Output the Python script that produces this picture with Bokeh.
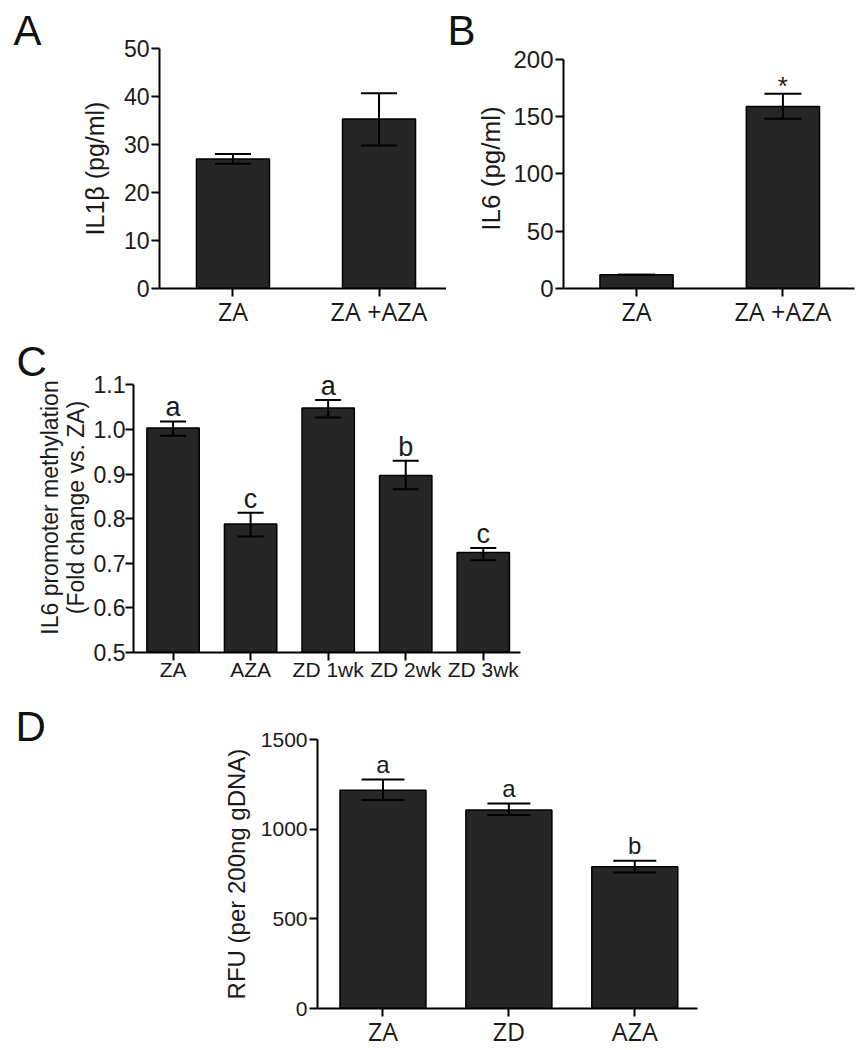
from bokeh.plotting import figure
from bokeh.models import (FixedTicker, Range1d, Whisker, ColumnDataSource,
                          TeeHead, PrintfTickFormatter)
from bokeh.layouts import row
from bokeh.embed import file_html
from bokeh.resources import INLINE
from bokeh.core.properties import value

# ---------------- data ----------------
# Panel A: IL1beta
a_cats = ["ZA", "ZA +AZA"]
a_mean = [27.0, 35.3]
a_lo = [26.0, 29.8]
a_hi = [28.0, 40.7]
a_marks = ["", ""]
a_yticks = [0, 10, 20, 30, 40, 50]

# Panel B: IL6
b_cats = ["ZA", "ZA +AZA"]
b_mean = [12.0, 158.8]
b_lo = [12.0, 148.0]
b_hi = [12.0, 170.0]
b_marks = ["", "*"]
b_yticks = [0, 50, 100, 150, 200]

# Panel C: IL6 promoter methylation
c_cats = ["ZA", "AZA", "ZD 1wk", "ZD 2wk", "ZD 3wk"]
c_mean = [1.003, 0.788, 1.048, 0.897, 0.724]
c_lo = [0.986, 0.760, 1.027, 0.866, 0.707]
c_hi = [1.018, 0.813, 1.066, 0.930, 0.734]
c_marks = ["a", "c", "a", "b", "c"]
c_yticks = [0.5, 0.6, 0.7, 0.8, 0.9, 1.0, 1.1]

# Panel D: RFU
d_cats = ["ZA", "ZD", "AZA"]
d_mean = [1217, 1107, 791]
d_lo = [1163, 1079, 759]
d_hi = [1277, 1143, 824]
d_marks = ["a", "a", "b"]
d_yticks = [0, 500, 1000, 1500]

TXT = "#1a1a1a"
BAR = "#262626"
ARIAL = "Liberation Sans"
HUMAN = "Open Sans"


def panel(cats, mean, lo, hi, marks, yticks, *, width, height, bl, br, bt, bb,
          xr, yr, ybounds, bar_w, cap, base, xfont, xfs, yfs, ylabel,
          ylfs, ylstand, ytstand, mark_fs, mark_off, letter, t_off, t_stand,
          yfmt=None):
    xs = [i + 1 for i in range(len(cats))]
    src = ColumnDataSource(dict(x=xs, top=mean, lo=lo, hi=hi, mark=marks))
    p = figure(width=width, height=height, x_range=Range1d(*xr),
               y_range=Range1d(*yr), output_backend="svg",
               toolbar_location=None, min_border_left=bl,
               min_border_right=br, min_border_top=bt, min_border_bottom=bb)
    p.xgrid.visible = False
    p.ygrid.visible = False
    p.outline_line_color = None
    p.background_fill_color = "white"
    p.border_fill_color = "white"

    # panel letter as title
    p.title.text = letter
    p.title.text_font = ARIAL
    p.title.text_font_style = "normal"
    p.title.text_font_size = "42px"
    p.title.text_color = "#111111"
    p.title.align = "left"
    p.title.vertical_align = "bottom"
    p.title.offset = t_off
    p.title.standoff = t_stand

    p.vbar(x="x", top="top", bottom=base, width=bar_w, source=src,
           fill_color=BAR, line_color="black", line_width=1.5)
    w = Whisker(base="x", upper="hi", lower="lo", source=src,
                dimension="height", line_width=2, line_color="black",
                upper_head=TeeHead(size=cap, line_width=2, line_color="black"),
                lower_head=TeeHead(size=cap, line_width=2, line_color="black"),
                level="annotation")
    p.add_layout(w)
    p.text(x="x", y="hi", text="mark", source=src, text_align="center",
           text_baseline="alphabetic", y_offset=mark_off,
           text_font=value(ARIAL), text_font_size=f"{mark_fs}px",
           text_color=TXT)

    xa = p.xaxis[0]
    ya = p.yaxis[0]
    for ax in (xa, ya):
        ax.axis_line_width = 2
        ax.axis_line_color = "black"
        ax.major_tick_line_width = 2
        ax.major_tick_line_color = "black"
        ax.major_tick_in = 0
        ax.major_tick_out = 8
        ax.minor_tick_line_color = None
        ax.major_label_text_color = TXT
    xa.ticker = FixedTicker(ticks=xs)
    xa.major_label_overrides = {x: c for x, c in zip(xs, cats)}
    xa.major_label_text_font = xfont
    xa.major_label_text_font_size = f"{xfs}px"
    xa.major_label_standoff = -3
    ya.ticker = FixedTicker(ticks=yticks)
    ya.bounds = ybounds
    if yfmt:
        ya.formatter = PrintfTickFormatter(format=yfmt)
    ya.major_label_text_font = ARIAL
    ya.major_label_text_font_size = f"{yfs}px"
    ya.major_label_standoff = ytstand
    ya.axis_label = ylabel
    ya.axis_label_text_font = ARIAL
    ya.axis_label_text_font_style = "normal"
    ya.axis_label_text_font_size = f"{ylfs}px"
    ya.axis_label_text_color = TXT
    ya.axis_label_text_line_height = 1.0
    ya.axis_label_standoff = ylstand
    return p


pA = panel(a_cats, a_mean, a_lo, a_hi, a_marks, a_yticks,
           width=446, height=330, bl=159, br=0, bt=48, bb=38,
           xr=(0.497, 2.462), yr=(0, 50), ybounds=(0, 50), bar_w=0.5, cap=36,
           base=0, xfont=HUMAN, xfs=25, yfs=23,
           ylabel="IL1β (pg/ml)", ylfs=25, ylstand=12, ytstand=2, mark_fs=26,
           mark_off=-11, letter="A", t_off=-146, t_stand=-10)

pB = panel(b_cats, b_mean, b_lo, b_hi, b_marks, b_yticks,
           width=416, height=330, bl=117, br=8, bt=48, bb=38,
           xr=(0.501, 2.489), yr=(0, 209.4), ybounds=(0, 200), bar_w=0.5,
           cap=37, base=0, xfont=HUMAN, xfs=25, yfs=24,
           ylabel="IL6 (pg/ml)", ylfs=26, ylstand=4, ytstand=2, mark_fs=26,
           mark_off=-8, letter="B", t_off=-116, t_stand=-10)

pC = panel(c_cats, c_mean, c_lo, c_hi, c_marks, c_yticks,
           width=862, height=367, bl=133, br=342, bt=32, bb=45,
           xr=(0.49, 5.48), yr=(0.5, 1.15), ybounds=(0.5, 1.1), bar_w=0.675,
           cap=26, base=0.5, xfont=ARIAL, xfs=21, yfs=23,
           ylabel="IL6 promoter methylation\n(Fold change vs. ZA)", ylfs=23,
           ylstand=2, ytstand=0, mark_fs=27, mark_off=-14, letter="C",
           t_off=-117, t_stand=-44, yfmt="%.1f")

pD = panel(d_cats, d_mean, d_lo, d_hi, d_marks, d_yticks,
           width=862, height=353, bl=317, br=165, bt=42, bb=42,
           xr=(0.48, 3.498), yr=(0, 1500), ybounds=(0, 1500), bar_w=0.683,
           cap=43, base=0, xfont=HUMAN, xfs=25, yfs=21,
           ylabel="RFU (per 200ng gDNA)", ylfs=24, ylstand=8, ytstand=2,
           mark_fs=24, mark_off=-15, letter="D", t_off=-302, t_stand=-20)

top_row = row(pA, pB)
open("out.html", "w").write(file_html([top_row, pC, pD], INLINE))
